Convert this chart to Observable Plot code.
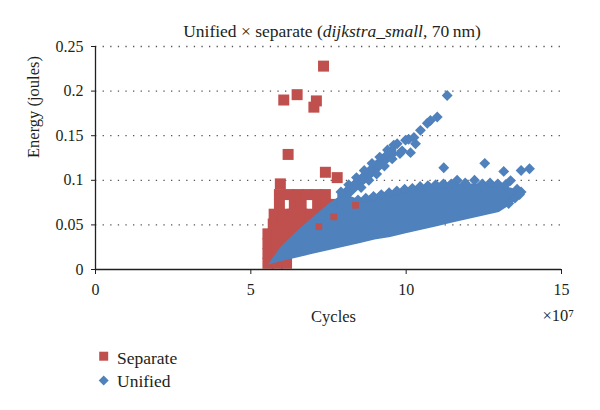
<!DOCTYPE html>
<html><head><meta charset="utf-8">
<script src="https://cdn.jsdelivr.net/npm/d3@7"></script>
<script src="https://cdn.jsdelivr.net/npm/@observablehq/plot@0.6"></script>
<style>
body{margin:0;background:#fff;}
#wrap{position:relative;width:600px;height:410px;overflow:hidden;font-family:"Liberation Serif",serif;color:#231f20;}
#chart{position:absolute;left:0;top:0;}
#title{position:absolute;left:82px;width:500px;top:21px;text-align:center;font-family:"Liberation Serif",serif;font-size:17.5px;line-height:20px;white-space:nowrap;}
#legend{position:absolute;left:0;top:340px;}
</style></head>
<body><div id="wrap"><div id="chart"></div><div id="title">Unified × separate (<i>dijkstra_small</i>, 70&thinsp;nm)</div><div id="legend"></div></div>
<script>
// ---- data (cycles in units of 10^7, energy in joules) ----
const seriesNames = ["Separate", "Unified"];
const seriesColors = ["#C0504D", "#4F81BD"];
const xTicks = [0, 5, 10, 15];
const xTickLabels = ["0", "5", "10", "15"];
const yTicks = [0, 0.05, 0.1, 0.15, 0.2, 0.25];
const yTickLabels = ["0", "0.05", "0.1", "0.15", "0.2", "0.25"];
const gridY = [0.05, 0.1, 0.15, 0.2, 0.25];

// Separate: individual squares (drawn beneath the unified cloud)
const separatePoints = [
  [7.34,0.228],[6.06,0.190],[6.49,0.196],[7.11,0.189],[7.03,0.182],[6.20,0.129],
  [7.40,0.109],[7.78,0.103],[5.95,0.096],
  [5.92,0.084],[6.22,0.084],[6.52,0.084],[6.82,0.084],[7.12,0.084],[7.40,0.084],
  [5.92,0.073],[6.40,0.073],[6.62,0.073],[7.15,0.073],[7.42,0.073],[7.70,0.073],
  [5.75,0.062],[6.05,0.062],[6.35,0.062],[6.65,0.062],[6.95,0.062],[7.25,0.062],[7.55,0.062],
  [5.72,0.051],[6.00,0.051],[6.30,0.051],[6.60,0.051],[6.90,0.051],[7.20,0.051],
  [5.55,0.040],[5.85,0.040],[6.15,0.040],[6.45,0.040],[6.75,0.040],
  [5.55,0.029],[5.85,0.029],[6.15,0.029],[6.45,0.029],
  [5.55,0.018],[5.85,0.018],[6.15,0.018],
  [5.55,0.007],[5.85,0.007],[6.15,0.007]
];
// Separate points seen through gaps of the unified cloud
const separateVisibleInside = [[7.67,0.059],[7.19,0.048],[8.37,0.072]];

// Unified: dense lower band (cycles, lower energy, upper energy)
const bandCycles = [5.58, 6.0, 6.5, 7.0, 7.5, 8.0, 8.5, 9.0, 9.5, 10.0, 10.5, 11.0, 11.5, 12.0, 12.5, 13.0, 13.4, 13.75];
const bandLow    = [0.005,0.009,0.013,0.017,0.021,0.025,0.029,0.033,0.036,0.040,0.044,0.048,0.052,0.056,0.060,0.064,0.073,0.085];
const bandHigh   = [0.006,0.026,0.043,0.058,0.073,0.085,0.078,0.082,0.086,0.090,0.093,0.095,0.096,0.096,0.095,0.095,0.091,0.086];
// Unified: dense upper branch
const branchCycles = [7.8, 8.2, 8.5, 8.8, 9.1, 9.4, 9.7];
const branchLow    = [0.068,0.080,0.090,0.099,0.108,0.118,0.127];
const branchHigh   = [0.084,0.096,0.105,0.115,0.124,0.134,0.142];
// Unified: individual diamonds (edges and outliers)
const unifiedPoints = [
  [7.9,0.087],[8.15,0.095],[8.4,0.103],[8.65,0.111],[8.9,0.119],[9.15,0.126],[9.4,0.134],[9.6,0.1395],
  [8.55,0.092],[8.8,0.100],[9.05,0.107],[9.3,0.116],[9.55,0.124],[9.8,0.130],
  [9.71,0.141],[9.87,0.133],[9.98,0.145],[10.08,0.146],[10.14,0.131],[10.25,0.148],[10.3,0.141],
  [10.46,0.156],[10.68,0.164],[10.78,0.167],[11.0,0.171],[11.32,0.195],
  [8.45,0.078],[8.7,0.080],[8.95,0.082],[9.2,0.084],[9.45,0.086],[9.7,0.088],[9.95,0.090],
  [10.2,0.091],[10.45,0.093],[10.7,0.094],[10.95,0.095],[11.2,0.096],[11.45,0.096],[11.64,0.100],
  [11.9,0.097],[12.2,0.100],[12.45,0.096],[12.7,0.097],[12.95,0.096],[13.2,0.095],[13.36,0.0997],
  [13.57,0.090],[13.7,0.087],
  [11.21,0.114],[12.53,0.119],[13.14,0.110],[13.70,0.111],[13.97,0.113],
  [13.3,0.074],[13.5,0.080],[13.65,0.084]
];

// ---- build tables ----
const toObj = ([x, y]) => ({x, y});
const separateData = separatePoints.map(toObj);
const separateInsideData = separateVisibleInside.map(toObj);
const unifiedData = unifiedPoints.map(toObj);
const bandData = bandCycles.map((x, i) => ({x, lo: bandLow[i], hi: bandHigh[i]}));
const branchData = branchCycles.map((x, i) => ({x, lo: branchLow[i], hi: branchHigh[i]}));
const lookup = (ticks, labels) => d => labels[ticks.findIndex(t => Math.abs(t - d) < 1e-9)];

const ink = "#231f20";
const font = "Liberation Serif";
const [red, blue] = seriesColors;

const plot = Plot.plot({
  width: 600, height: 340,
  marginLeft: 95, marginRight: 39, marginTop: 46, marginBottom: 71,
  style: {fontFamily: font, fontSize: "16px", color: ink, background: "transparent", overflow: "visible"},
  x: {domain: [0, 15], ticks: xTicks, tickFormat: lookup(xTicks, xTickLabels), tickSize: 5, tickPadding: 9, label: null},
  y: {domain: [0, 0.25], ticks: yTicks, tickFormat: lookup(yTicks, yTickLabels), tickSize: 4, tickPadding: 8, label: null},
  marks: [
    Plot.ruleY(gridY, {stroke: "#555", strokeWidth: 1.3, strokeDasharray: "1.3,6.3"}),
    Plot.dot(separateData, {x: "x", y: "y", symbol: "square", r: 6.2, fill: red}),
    Plot.area(bandData, {x1: "x", y1: "lo", y2: "hi", fill: blue}),
    Plot.area(branchData, {x1: "x", y1: "lo", y2: "hi", fill: blue}),
    Plot.dot(unifiedData, {x: "x", y: "y", symbol: "diamond2", r: 4.9, fill: blue}),
    Plot.dot(separateInsideData, {x: "x", y: "y", symbol: "square", r: 3.8, fill: red}),
    Plot.ruleX([0], {stroke: ink, strokeWidth: 1.3}),
    Plot.ruleY([0], {stroke: ink, strokeWidth: 1.3}),
    Plot.text(["Cycles"], {frameAnchor: "bottom", dx: 5, dy: 52, lineAnchor: "bottom", fontSize: 16.5, fontFamily: font, fill: ink}),
    Plot.text(["×10⁷"], {frameAnchor: "bottom-right", textAnchor: "start", dx: -19, dy: 51, lineAnchor: "bottom", fontSize: 16.5, fontFamily: font, fill: ink}),
    Plot.text(["Energy (joules)"], {frameAnchor: "left", rotate: -90, dx: -57, lineAnchor: "bottom", fontSize: 16.5, fontFamily: font, fill: ink})
  ]
});
document.getElementById("chart").appendChild(plot);

// ---- legend (separate small SVG below the chart) ----
const baselines = [24, 47];     // relative to legend top (340)
const symCenters = [16.2, 40.5];
const leg = d3.select("#legend").append("svg").attr("width", 220).attr("height", 60)
  .style("font-family", "'Liberation Serif', serif");
seriesNames.forEach((name, i) => {
  const cx = 103.7, cy = symCenters[i];
  leg.append("path")
    .attr("d", i === 0
      ? `M${cx-4.5},${cy-4.5}h9v9h-9Z`
      : `M${cx},${cy-5}L${cx+5},${cy}L${cx},${cy+5}L${cx-5},${cy}Z`)
    .attr("fill", seriesColors[i]);
  leg.append("text").attr("x", 117).attr("y", baselines[i])
    .attr("font-family", "Liberation Serif").attr("font-size", 17.5).attr("fill", ink)
    .text(name);
});
</script>
</body></html>
